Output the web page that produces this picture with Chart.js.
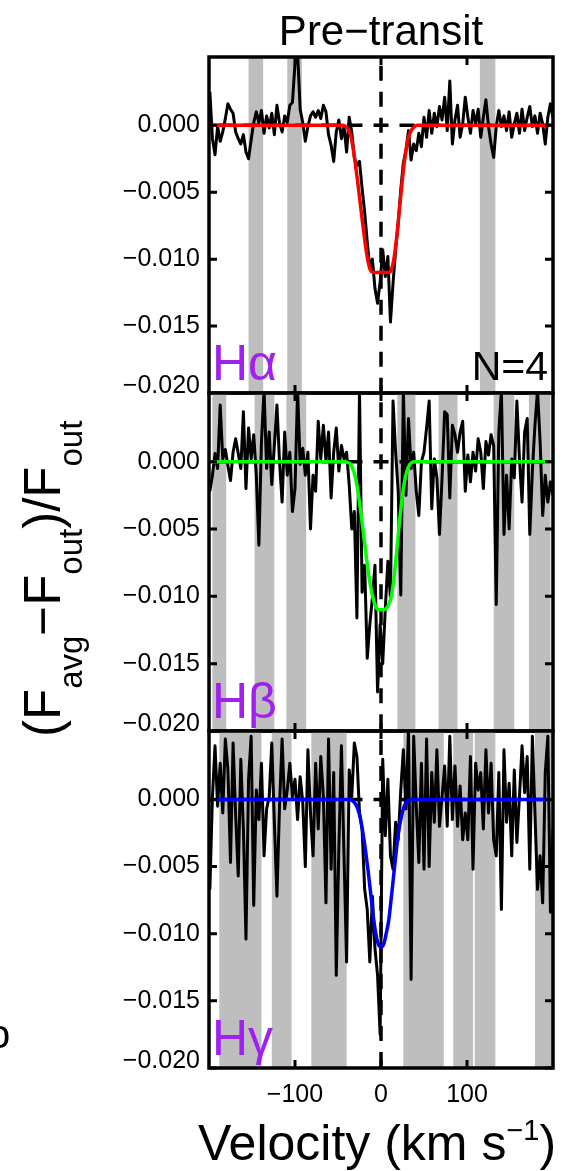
<!DOCTYPE html>
<html>
<head>
<meta charset="utf-8">
<script src="https://cdn.jsdelivr.net/npm/chart.js@4.4.1/dist/chart.umd.min.js"></script>
<style>
  html, body { margin: 0; padding: 0; background: #fff; }
  #wrap { position: relative; width: 572px; height: 1171px; overflow: hidden; }
  #wrap canvas { position: absolute; left: 0; top: 0; }
</style>
</head>
<body>
<div id="wrap">
  <canvas id="panelA" width="572" height="1171"></canvas>
  <canvas id="panelB" width="572" height="1171"></canvas>
  <canvas id="panelC" width="572" height="1171"></canvas>
</div>
<script>
// velocity grid of the averaged spectra (km/s)
const velocity = [
  -199,-196,-193,-190,-187,-184,-181,-178,-175,-172,
  -169,-166,-163,-160,-157,-154,-151,-148,-145,-142,
  -139,-136,-133,-130,-127,-124,-121,-118,-115,-112,
  -109,-106,-103,-100,-97,-94,-91,-88,-85,-82,
  -79,-76,-73,-70,-67,-64,-61,-58,-55,-52,
  -49,-46,-43,-40,-37,-34,-31,-28,-25,-22,
  -19,-16,-13,-10,-7,-4,-1,2,5,8,
  11,14,17,20,23,26,29,32,35,38,
  41,44,47,50,53,56,59,62,65,68,
  71,74,77,80,83,86,89,92,95,98,
  101,104,107,110,113,116,119,122,125,128,
  131,134,137,140,143,146,149,152,155,158,
  161,164,167,170,173,176,179,182,185,188,
  191,194,197,200
];

// (F_avg - F_out)/F_out
const halphaFlux = [
  0.0025,-0.0010,-0.0022,-0.0001,-0.0012,-0.0005,0.0005,0.0016,0.0012,0.0009,
  -0.0005,-0.0010,-0.0014,-0.0007,-0.0020,-0.0025,-0.0011,0.0002,0.0010,0.0002,
  0.0011,-0.0006,0.0007,-0.0002,0.0009,-0.0007,0.0015,0.0002,-0.0005,0.0007,
  0.0002,0.0015,0.0017,0.0046,0.0055,0.0012,0.0002,-0.0012,-0.0001,0.0007,
  0.0010,0.0006,0.0011,0.0005,0.0015,0.0010,-0.0007,-0.0015,-0.0027,-0.0005,
  0.0004,-0.0010,-0.0001,-0.0020,0.0006,-0.0005,-0.0024,-0.0030,-0.0027,-0.0047,
  -0.0065,-0.0087,-0.0107,-0.0100,-0.0122,-0.0133,-0.0117,-0.0093,-0.0113,-0.0098,
  -0.0147,-0.0118,-0.0093,-0.0073,-0.0048,-0.0028,-0.0019,-0.0004,-0.0026,-0.0014,
  -0.0019,-0.0006,-0.0016,0.0006,-0.0009,0.0011,-0.0006,0.0009,-0.0001,0.0014,
  0.0004,0.0021,-0.0004,0.0033,-0.0014,0.0004,0.0015,-0.0009,0.0001,0.0021,
  0.0006,-0.0006,0.0011,0.0001,0.0012,-0.0009,0.0006,0.0019,-0.0001,-0.0014,
  -0.0024,-0.0001,0.0011,-0.0001,0.0007,-0.0004,0.0010,-0.0009,0.0001,0.0009,
  -0.0006,0.0012,-0.0004,0.0006,0.0014,-0.0001,0.0007,-0.0006,0.0009,0.0001,
  -0.0014,0.0006,0.0016,0.0006
];
const hbetaFlux = [
  -0.0022,-0.0010,0.0006,-0.0005,0.0042,0.0002,0.0009,-0.0003,-0.0014,0.0007,
  0.0017,0.0006,-0.0005,0.0037,-0.0020,0.0025,0.0002,0.0020,-0.0010,-0.0062,
  0.0015,0.0053,-0.0005,0.0022,-0.0017,0.0012,0.0042,0.0000,-0.0030,0.0022,
  -0.0010,0.0007,-0.0037,-0.0020,0.0053,-0.0002,0.0010,-0.0010,0.0007,-0.0050,
  -0.0010,-0.0022,0.0030,0.0002,0.0027,0.0000,0.0022,-0.0027,0.0007,0.0025,
  -0.0007,0.0012,0.0002,0.0007,-0.0017,-0.0050,-0.0037,-0.0116,0.0053,-0.0097,
  -0.0077,-0.0146,-0.0121,-0.0101,-0.0077,-0.0171,-0.0121,-0.0150,-0.0109,-0.0074,
  -0.0101,0.0045,0.0007,-0.0022,-0.0099,0.0053,-0.0025,0.0032,-0.0005,0.0007,
  -0.0022,-0.0040,0.0000,0.0007,0.0025,0.0045,-0.0035,0.0002,-0.0012,-0.0054,
  -0.0012,0.0037,0.0035,-0.0027,0.0027,0.0020,0.0007,0.0022,0.0030,-0.0022,
  0.0005,-0.0015,0.0007,-0.0007,0.0017,0.0007,-0.0020,0.0015,0.0005,0.0020,
  0.0012,-0.0106,0.0022,0.0053,-0.0054,-0.0010,-0.0050,0.0002,-0.0012,0.0045,
  0.0002,-0.0030,0.0022,0.0032,-0.0054,-0.0007,0.0027,0.0053,0.0015,-0.0040,
  -0.0010,-0.0030,-0.0015,-0.0025
];
const hgammaFlux = [
  -0.0067,0.0002,0.0040,-0.0005,0.0027,-0.0010,0.0045,0.0022,-0.0047,0.0042,
  -0.0012,-0.0057,0.0030,-0.0022,-0.0104,0.0015,0.0047,-0.0079,0.0007,-0.0015,
  0.0027,-0.0042,-0.0007,0.0002,0.0042,-0.0017,-0.0072,-0.0005,0.0045,-0.0007,
  0.0007,0.0027,0.0002,0.0015,-0.0015,0.0017,-0.0002,-0.0050,0.0037,-0.0010,
  -0.0042,0.0027,-0.0022,0.0032,0.0002,-0.0077,0.0045,-0.0052,0.0020,-0.0131,
  -0.0035,0.0040,-0.0042,-0.0121,0.0022,0.0002,0.0042,0.0032,-0.0010,-0.0022,
  -0.0067,-0.0082,-0.0121,-0.0072,-0.0111,-0.0131,-0.0175,0.0030,-0.0027,0.0015,
  -0.0042,-0.0052,-0.0017,-0.0030,0.0007,0.0037,-0.0007,0.0052,-0.0134,0.0047,
  -0.0005,-0.0047,0.0027,-0.0052,0.0045,-0.0050,0.0020,-0.0017,0.0037,-0.0020,
  0.0002,0.0025,-0.0020,0.0047,-0.0015,0.0025,-0.0020,0.0010,-0.0030,-0.0010,
  -0.0030,0.0032,-0.0052,0.0027,0.0007,0.0020,-0.0022,0.0037,-0.0010,0.0027,
  -0.0030,-0.0042,0.0020,-0.0082,0.0037,-0.0017,0.0012,-0.0042,0.0022,-0.0032,
  0.0002,0.0040,0.0005,0.0032,-0.0052,0.0047,-0.0010,-0.0067,-0.0042,-0.0077,
  0.0020,0.0047,-0.0084,-0.0022
];

// fitted absorption models
const modelVelocity = [-200,-60,-50,-45,-42,-39,-36,-33,-30,-27,-24,-21,-18,-15,-12,-9,-6,-3,0,
  3,6,9,12,15,18,21,24,27,30,33,36,39,42,45,50,60,200];
const halphaModel = [0,0,0,0,-0.00005,-0.0002,-0.0006,-0.0015,-0.0028,-0.0043,-0.0059,-0.0075,-0.0090,-0.0102,-0.01085,
  -0.0110,-0.0110,-0.0110,-0.0110,-0.0110,-0.0110,-0.0110,-0.0108,-0.0100,-0.0085,-0.0066,-0.0046,-0.0028,-0.0015,
  -0.0007,-0.0003,-0.0001,0,0,0,0,0];
const hbetaModel = [0,0,0,0,0,-0.00005,-0.00015,-0.0005,-0.0011,-0.0021,-0.0035,-0.0050,-0.0066,-0.0081,-0.0093,
  -0.0102,-0.0108,-0.0110,-0.0110,-0.0110,-0.0109,-0.0106,-0.0100,-0.0087,-0.0068,-0.0048,-0.0030,-0.0016,-0.0007,
  -0.00025,-0.00005,0,0,0,0,0,0];
const hgammaModel = [0,0,0,0,0,0,0,-0.0001,-0.0003,-0.0007,-0.0014,-0.0025,-0.0038,-0.0053,-0.0070,
  -0.0087,-0.0100,-0.0108,-0.0110,-0.0108,-0.0100,-0.0090,-0.0073,-0.0055,-0.0037,-0.0022,-0.0012,-0.0005,-0.0002,
  -0.00005,0,0,0,0,0,0,0];

// masked (grey) velocity ranges
const halphaBands = [[-154,-137],[-109,-92],[115,133]];
const hbetaBands = [[-196,-180],[-147,-124],[-110,-87],[19,40],[67,89],[131,155],[172,197]];
const hgammaBands = [[-188,-139],[-127,-104],[-81,-40],[26,73],[84,107],[109,133],[179,200]];

const xTicks = [-100, 0, 100];
const xTickLabels = ['\u2212100', '0', '100'];
const yTicks = [0, -0.005, -0.010, -0.015, -0.020];
const yTickLabels = ['0.000', '\u22120.005', '\u22120.010', '\u22120.015', '\u22120.020'];

const FONT = '"Liberation Sans", Arial, Helvetica, sans-serif';
const W = 572, H = 1171;
const plotLeft = 209, plotRight = 553;

function pairs(xs, ys) {
  return xs.map((v, i) => ({ x: v, y: ys[i] }));
}

function drawRuns(ctx, runs, x, y) {
  let cx = x;
  runs.forEach(r => {
    ctx.font = r.size + 'px ' + FONT;
    ctx.fillText(r.text, cx, y + r.dy);
    cx += ctx.measureText(r.text).width;
  });
}

const panelDecor = {
  id: 'panelDecor',
  beforeDatasetsDraw(chart, args, opts) {
    const { ctx, chartArea: a, scales: { x, y } } = chart;
    ctx.save();
    ctx.fillStyle = '#bebebe';
    opts.bands.forEach(([v0, v1]) => {
      const x0 = x.getPixelForValue(v0), x1 = x.getPixelForValue(v1);
      ctx.fillRect(x0, a.top, x1 - x0, a.bottom - a.top);
    });
    // dashed zero lines, a dash centred on the crossing
    const cx = x.getPixelForValue(0), cy = y.getPixelForValue(0);
    ctx.strokeStyle = '#000';
    ctx.lineWidth = 3.5;
    ctx.setLineDash([15, 11]);
    ctx.lineDashOffset = 7.5;
    [[cx, a.top], [cx, a.bottom], [a.left, cy], [a.right, cy]].forEach(([ex, ey]) => {
      ctx.beginPath();
      ctx.moveTo(cx, cy);
      ctx.lineTo(ex, ey);
      ctx.stroke();
    });
    ctx.restore();
  },
  afterDatasetsDraw(chart, args, opts) {
    const { ctx, chartArea: a, scales: { x, y } } = chart;
    ctx.save();
    ctx.strokeStyle = '#000';
    ctx.lineWidth = 3;
    ctx.beginPath();
    xTicks.forEach(v => {
      const px = x.getPixelForValue(v);
      ctx.moveTo(px, a.top); ctx.lineTo(px, a.top + 8);
      ctx.moveTo(px, a.bottom); ctx.lineTo(px, a.bottom - 8);
    });
    yTicks.forEach(v => {
      const py = y.getPixelForValue(v);
      ctx.moveTo(a.left, py); ctx.lineTo(a.left + 8, py);
      ctx.moveTo(a.right, py); ctx.lineTo(a.right - 8, py);
    });
    ctx.stroke();
    ctx.lineWidth = 3.5;
    ctx.strokeRect(a.left, a.top, a.right - a.left, a.bottom - a.top);

    // bottom tick label sits just above the panel edge
    ctx.fillStyle = '#000';
    ctx.font = '25px ' + FONT;
    ctx.textAlign = 'right';
    ctx.textBaseline = 'middle';
    ctx.fillText(yTickLabels[yTickLabels.length - 1], a.left - 9, a.bottom - 7);

    ctx.textBaseline = 'alphabetic';
    ctx.textAlign = 'left';
    ctx.fillStyle = '#a020f0';
    ctx.font = '50px ' + FONT;
    ctx.fillText(opts.label, a.left + 3, a.bottom - 13);
    if (opts.note) {
      ctx.fillStyle = '#000';
      ctx.font = '41px ' + FONT;
      ctx.textAlign = 'right';
      ctx.fillText(opts.note, a.right - 5, a.bottom - 13);
    }
    if (opts.title) {
      ctx.fillStyle = '#000';
      ctx.font = '42px ' + FONT;
      ctx.textAlign = 'center';
      ctx.fillText(opts.title, (a.left + a.right) / 2, 45);
    }
    if (opts.axisTitles) {
      ctx.fillStyle = '#000';
      ctx.textAlign = 'left';
      drawRuns(ctx, [
        { text: 'Velocity (km s', size: 50, dy: 0 },
        { text: '\u22121', size: 29, dy: -20 },
        { text: ')', size: 50, dy: 0 }
      ], 198, 1160);
      ctx.save();
      ctx.translate(60, 737);
      ctx.rotate(-Math.PI / 2);
      drawRuns(ctx, [
        { text: '(F', size: 51, dy: 0 },
        { text: 'avg', size: 33, dy: 22 },
        { text: '\u2212F', size: 51, dy: 0 },
        { text: 'out', size: 33, dy: 22 },
        { text: ')/F', size: 51, dy: 0 },
        { text: 'out', size: 33, dy: 22 }
      ], 0, 0);
      ctx.restore();
      // clipped letter of a neighbouring figure at the left edge
      ctx.font = '40px ' + FONT;
      ctx.fillText('o', -12, 1048);
    }
    ctx.restore();
  }
};

function makePanel(id, top, bottom, flux, model, modelColor, bands, extra) {
  const withX = !!extra.axisTitles;
  const xScale = {
    type: 'linear',
    min: -200,
    max: 200,
    display: withX,
    afterBuildTicks: s => { s.ticks = xTicks.map(v => ({ value: v })); },
    grid: { display: false, drawTicks: false },
    border: { display: false },
    ticks: {
      color: '#000',
      padding: 12,
      maxRotation: 0,
      font: { family: FONT, size: 25 },
      callback: (v, i) => xTickLabels[i]
    }
  };
  if (withX) {
    xScale.afterFit = s => { s.height = H - bottom; };
  }
  return new Chart(document.getElementById(id), {
    type: 'line',
    data: {
      datasets: [
        {
          data: pairs(modelVelocity, model),
          borderColor: modelColor,
          borderWidth: 3.5,
          pointRadius: 0,
          cubicInterpolationMode: 'monotone'
        },
        {
          data: pairs(velocity, flux),
          borderColor: '#000',
          borderWidth: 3,
          borderJoinStyle: 'round',
          pointRadius: 0,
          tension: 0
        }
      ]
    },
    options: {
      responsive: false,
      animation: false,
      devicePixelRatio: 1,
      events: [],
      layout: {
        padding: { top: top, bottom: withX ? 0 : H - bottom, left: 0, right: W - plotRight }
      },
      scales: {
        x: xScale,
        y: {
          type: 'linear',
          min: -0.020,
          max: 0.0051,
          afterBuildTicks: s => { s.ticks = yTicks.map(v => ({ value: v })); },
          afterFit: s => { s.width = plotLeft; },
          grid: { display: false, drawTicks: false },
          border: { display: false },
          ticks: {
            color: '#000',
            padding: 9,
            font: { family: FONT, size: 25 },
            callback: (v, i) => (i === yTicks.length - 1 ? '' : yTickLabels[i])
          }
        }
      },
      plugins: {
        legend: { display: false },
        tooltip: { enabled: false },
        panelDecor: Object.assign({ bands: bands }, extra)
      }
    },
    plugins: [panelDecor]
  });
}

makePanel('panelA', 57, 393, halphaFlux, halphaModel, '#ff0000', halphaBands,
  { label: 'H\u03b1', note: 'N=4', title: 'Pre\u2212transit' });
makePanel('panelB', 393, 731, hbetaFlux, hbetaModel, '#00ff00', hbetaBands,
  { label: 'H\u03b2' });
makePanel('panelC', 731, 1068, hgammaFlux, hgammaModel, '#0000ff', hgammaBands,
  { label: 'H\u03b3', axisTitles: true });
</script>
</body>
</html>
